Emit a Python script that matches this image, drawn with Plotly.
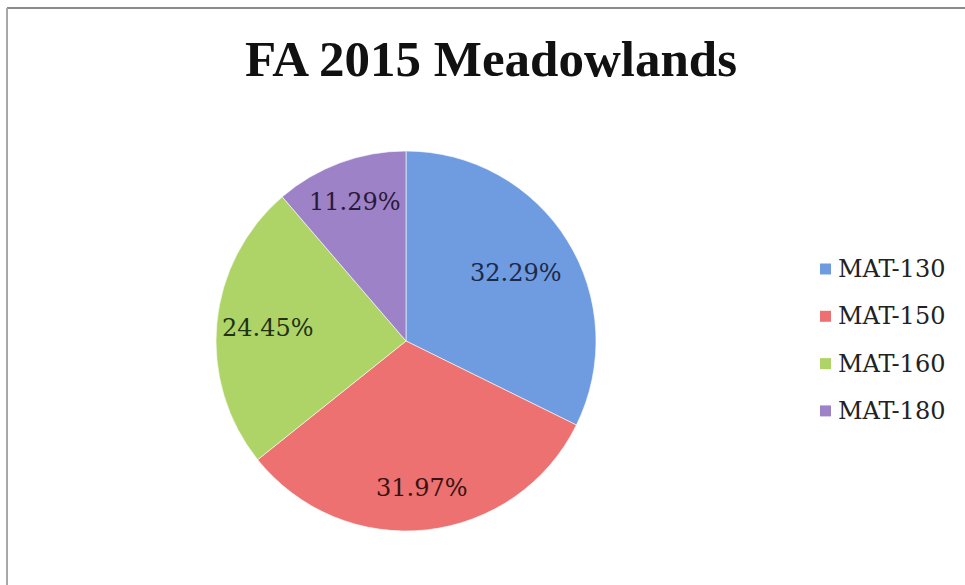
import math
import plotly.graph_objects as go

# Enrollment share by course, FA 2015 Meadowlands
courses = ["MAT-130", "MAT-150", "MAT-160", "MAT-180"]
shares = [32.29, 31.97, 24.45, 11.29]
slice_colors = ["#6f9be0", "#ec7170", "#aed468", "#9d82c8"]
label_colors = ["#1c2a4a", "#3a1212", "#1f3312", "#2a1a3a"]
# radial placement of each percentage label, as a fraction of the radius
label_radius = [0.68, 0.78, 0.73, 0.78]

W, H = 965, 585
cx, cy, r = 406, 341, 190

fig = go.Figure()
fig.add_trace(go.Pie(
    labels=courses,
    values=shares,
    sort=False,
    direction="clockwise",
    rotation=0,
    marker=dict(colors=slice_colors, line=dict(color="rgba(255,255,255,0.6)", width=1)),
    textinfo="none",
    hoverinfo="label+percent",
    showlegend=False,
    domain=dict(x=[(cx - r) / W, (cx + r) / W], y=[(H - cy - r) / H, (H - cy + r) / H]),
))

annotations = []

# Percentage labels at the middle angle of each slice (clockwise from 12 o'clock)
total = sum(shares)
start = 0.0
for v, col, rf in zip(shares, label_colors, label_radius):
    mid = (start + v / 2) / total * 2 * math.pi
    start += v
    px = cx + rf * r * math.sin(mid)
    py = cy - rf * r * math.cos(mid)
    annotations.append(dict(text=f"{v:.2f}%", xref="paper", yref="paper",
                            x=px / W, y=1 - py / H, xanchor="center", yanchor="middle",
                            showarrow=False,
                            font=dict(family="DejaVu Serif", size=24, color=col)))

# Frame lines along the top and left edges
shapes = [
    dict(type="line", xref="paper", yref="paper", x0=7 / W, x1=1, y0=1 - 8 / H, y1=1 - 8 / H,
         line=dict(color="#8a8a8a", width=2)),
    dict(type="line", xref="paper", yref="paper", x0=7 / W, x1=7 / W, y0=0, y1=1 - 8 / H,
         line=dict(color="#a8a8a8", width=2)),
]

# Legend: colour swatch and course name per row
leg_x, leg_y0, leg_dy, sw = 820, 269, 47.3, 11
for i, (name, col) in enumerate(zip(courses, slice_colors)):
    yc = leg_y0 + i * leg_dy
    shapes.append(dict(type="rect", xref="paper", yref="paper",
                       x0=leg_x / W, x1=(leg_x + sw) / W,
                       y0=1 - (yc + sw / 2) / H, y1=1 - (yc - sw / 2) / H,
                       fillcolor=col, line=dict(width=0)))
    annotations.append(dict(text=name, xref="paper", yref="paper",
                            x=(leg_x + sw + 5) / W, y=1 - yc / H,
                            xanchor="left", yanchor="middle", showarrow=False,
                            font=dict(family="DejaVu Serif", size=24, color="#222222")))

fig.update_layout(
    width=W, height=H,
    margin=dict(l=0, r=0, t=0, b=0),
    paper_bgcolor="white",
    plot_bgcolor="white",
    title=dict(text="<b>FA 2015 Meadowlands</b>", x=491 / W, xanchor="center",
               y=1 - 58 / H, yanchor="middle",
               font=dict(family="Liberation Serif", size=51, color="#111111")),
    shapes=shapes,
    annotations=annotations,
)

fig.write_html("out.html")
